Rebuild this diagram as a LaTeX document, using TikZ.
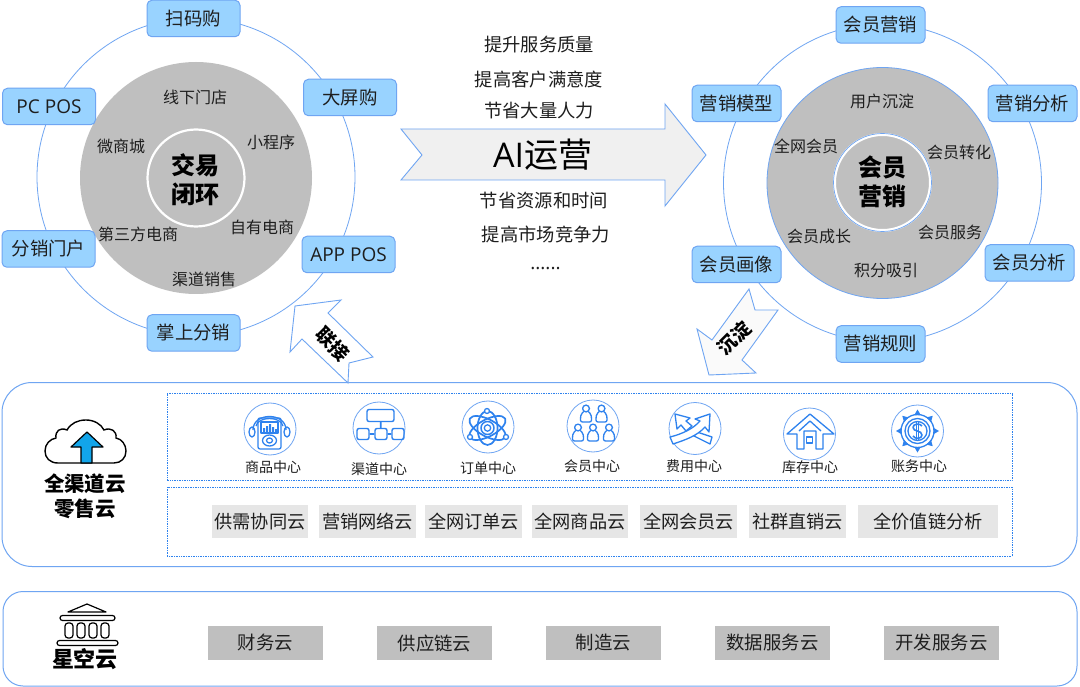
\documentclass[tikz,border=0pt]{standalone}
\usepackage{fontspec}
\setmainfont{Noto Sans CJK SC}
\newfontfamily\latinfont{Open Sans}
\newcommand{\pxf}[1]{\fontsize{#1}{#1}\selectfont}
\definecolor{lineblue}{HTML}{6FA5F2}
\definecolor{iconblue}{HTML}{2E82EE}
\definecolor{boxblue}{HTML}{99D3FF}
\definecolor{diskgrey}{HTML}{BFBFBF}
\definecolor{chiplight}{HTML}{E6E6E6}
\definecolor{ink}{HTML}{1E1E1E}
\definecolor{cloudarrow}{HTML}{12A5EA}
\tikzset{
  ring/.style={circle,draw=lineblue,line width=0.8pt,fill=none,inner sep=0pt},
  disk/.style={circle,fill=diskgrey,inner sep=0pt},
  bluebox/.style={draw=lineblue,line width=1pt,fill=boxblue,rounded corners=5pt,minimum width=#1,minimum height=36.5pt,inner sep=0pt,text=ink,font=\pxf{18.4}},
  bluebox/.default=93pt,
  disklabel/.style={text=ink,font=\pxf{16},inner sep=0pt},
  centrelabel/.style={text=black,align=center,font=\fontsize{24}{29}\selectfont\bfseries,inner sep=0pt},
  midlabel/.style={text=ink,font=\pxf{18.3},inner sep=0pt},
  panel/.style={draw=lineblue,line width=1pt,fill=white},
  dotbox/.style={draw=iconblue,line width=0.6pt,dash pattern=on 1pt off 0.7pt},
  chipa/.style={fill=chiplight,text=ink,font=\pxf{18.2},minimum height=33pt,inner sep=0pt},
  chipb/.style={fill=diskgrey,text=ink,font=\pxf{18.4},minimum height=34pt,minimum width=115pt,inner sep=0pt},
  iconring/.style={circle,draw=lineblue,line width=0.8pt,minimum size=52pt,inner sep=0pt},
  iconline/.style={draw=iconblue,line width=1.3pt,line join=round},
  iconlabel/.style={text=ink,font=\pxf{14},inner sep=0pt},
  sidelabel/.style={text=black,align=center,font=\fontsize{20.5}{25}\selectfont\bfseries,inner sep=0pt},
  arrowshape/.style={draw=lineblue,line width=0.9pt,line join=miter},
  person/.pic={
    \draw[iconline] (0,-5.5) circle (3.4);
    \draw[iconline,rounded corners=2pt] (-2.2,-2.4) -- (-5.2,0) -- (-5.6,8) -- (5.6,8) -- (5.2,0) -- (2.2,-2.4);
  },
}
\begin{document}
\begin{tikzpicture}[x=1pt,y=-1pt]
\useasboundingbox (0,0) rectangle (1080,687);
\fill[white] (0,0) rectangle (1080,687);

% ---------- left ring
\node[ring,minimum size=318pt] (lring) at (196,177) {};
\node[disk,minimum size=232pt] (ldisk) at (196,178) {};
\node[circle,draw=white,line width=2.2pt,minimum size=97pt,inner sep=0pt] (lcore) at (196,178) {};
\node[centrelabel] (ltitle) at (195,179.5) {交易\\闭环};
\node[disklabel] (l1) at (195,97) {线下门店};
\node[disklabel] (l2) at (271,142) {小程序};
\node[disklabel] (l3) at (121,146) {微商城};
\node[disklabel] (l4) at (138,234) {第三方电商};
\node[disklabel] (l5) at (262,227) {自有电商};
\node[disklabel] (l6) at (204,279) {渠道销售};

\node[bluebox] (b1) at (193.5,18.5) {扫码购};
\node[bluebox] (b2) at (350,97.5) {大屏购};
\node[bluebox,font=\latinfont\pxf{19}] (b3) at (49,106.5) {PC POS};
\node[bluebox] (b4) at (48.5,249) {分销门户};
\node[bluebox,font=\latinfont\pxf{19}] (b5) at (348.5,254.5) {APP POS};
\node[bluebox] (b6) at (193.5,333) {掌上分销};

% ---------- right ring
\node[ring,minimum size=318pt] (rring) at (882.5,183) {};
\node[disk,draw=lineblue,line width=0.8pt,minimum size=231pt] (rdisk) at (882.5,183) {};
\node[circle,draw=white,line width=3pt,minimum size=96pt,inner sep=0pt] (rcorew) at (882.5,182.5) {};
\node[circle,draw=lineblue,line width=0.7pt,minimum size=98pt,inner sep=0pt] (rcore) at (882.5,182.5) {};
\node[centrelabel] (rtitle) at (882,181.5) {会员\\营销};
\node[disklabel] (r1) at (882,101) {用户沉淀};
\node[disklabel] (r2) at (806,146) {全网会员};
\node[disklabel] (r3) at (959,152) {会员转化};
\node[disklabel] (r4) at (819,236) {会员成长};
\node[disklabel] (r5) at (950,232) {会员服务};
\node[disklabel] (r6) at (886,271) {积分吸引};

\node[bluebox=89pt] (c1) at (880.5,25) {会员营销};
\node[bluebox=89pt] (c2) at (736.5,103.5) {营销模型};
\node[bluebox=89pt] (c3) at (1032.5,103.5) {营销分析};
\node[bluebox=89pt] (c4) at (736.5,264.5) {会员画像};
\node[bluebox=89pt] (c5) at (1029.5,263) {会员分析};
\node[bluebox=89pt] (c6) at (880.5,344) {营销规则};

% ---------- central arrow and text
\draw[arrowshape,fill=black!6] (401,129) -- (665,129) -- (665,104) -- (706,155) -- (665,206) -- (665,180) -- (401,180) -- (422,155) -- cycle;
\node[text=black,inner sep=0pt,font=\pxf{34}] (ai) at (542.5,155) {{\latinfont AI}运营};
\node[midlabel] (m1) at (539,45) {提升服务质量};
\node[midlabel] (m2) at (539,80) {提高客户满意度};
\node[midlabel] (m3) at (539,111) {节省大量人力};
\node[midlabel] (m4) at (544,201) {节省资源和时间};
\node[midlabel] (m5) at (546,235) {提高市场竞争力};
\node[midlabel,font=\latinfont\pxf{19}] (m6) at (545.5,269) {......};

% ---------- panels
\draw[panel,rounded corners=30pt] (2,382.5) rectangle (1077,566.5);
\draw[panel,rounded corners=20pt] (3,591.5) rectangle (1077,686);
\draw[dotbox] (167,393.5) rectangle (1012,480.5);
\draw[dotbox] (167,487) rectangle (1012,556.5);

% ---------- small arrows
\draw[arrowshape,fill=white] (295,306) -- (341,300) -- (328,313) -- (373,357) -- (349,363) -- (348,383) -- (302,339) -- (290,352) -- cycle;
\node[rotate=-45,text=black,font=\pxf{19}\bfseries,inner sep=0pt] (link) at (333,344) {联接};
\draw[arrowshape,fill=black!2] (749,289) -- (755,310) -- (778,310) -- (742,360) -- (756,373) -- (709,375) -- (697,329) -- (712,340) -- cycle;
\node[rotate=45,text=black,font=\pxf{19}\bfseries,inner sep=0pt] (settle) at (734,338) {沉淀};

% ---------- chips
\node[chipa,minimum width=96pt] (s1) at (260,521.5) {供需协同云};
\node[chipa,minimum width=97pt] (s2) at (367.5,521.5) {营销网络云};
\node[chipa,minimum width=97pt] (s3) at (473.5,521.5) {全网订单云};
\node[chipa,minimum width=96pt] (s4) at (580,521.5) {全网商品云};
\node[chipa,minimum width=97pt] (s5) at (688.5,521.5) {全网会员云};
\node[chipa,minimum width=97pt] (s6) at (797.5,521.5) {社群直销云};
\node[chipa,minimum width=140pt] (s7) at (928,521.5) {全价值链分析};

\node[chipb] (t1) at (265.5,643) {财务云};
\node[chipb] (t2) at (434.5,643) {供应链云};
\node[chipb] (t3) at (603.5,643) {制造云};
\node[chipb] (t4) at (772.5,643) {数据服务云};
\node[chipb] (t5) at (941.5,643) {开发服务云};

% ---------- side labels and logos
\draw[black,line width=1.4pt,fill=white] (58,463) .. controls (50,463) and (45,458) .. (45,451) .. controls (45,444) and (50,439) .. (56,438) .. controls (55,431) and (60,427) .. (67,430) .. controls (71,423) and (78,420) .. (86,420) .. controls (94,420) and (101,424) .. (104,430) .. controls (111,427) and (117,431) .. (116,438) .. controls (122,439) and (126,445) .. (126,451) .. controls (126,458) and (121,463) .. (114,463) -- cycle;
\draw[black,line width=1.2pt,fill=cloudarrow,line join=round] (87,432) -- (103,447) -- (92,447) -- (92,463) -- (81,463) -- (81,447) -- (71,447) -- cycle;
\node[sidelabel] (side1) at (85,496.5) {全渠道云\\零售云};

\draw[black,line width=1.2pt,line join=round] (68,612) -- (87,604) -- (106,612) -- cycle;
\draw[black,line width=1.2pt,rounded corners=2.5pt] (60,615.5) rectangle (115,620.5);
\foreach \cx in {69,81,93,105}{
  \draw[black,line width=1.2pt,rounded corners=3pt] (\cx-4,623) rectangle (\cx+4,638);
}
\draw[black,line width=1.2pt,rounded corners=2.5pt] (57,640.5) rectangle (118,645.5);
\node[sidelabel,font=\pxf{22}\bfseries] (side2) at (85,659) {星空云};

% ---------- icon: goods
\node[iconring] (i1) at (270,429) {};
\draw[iconline,rounded corners=2pt] (258,418) rectangle (281,449);
\draw[iconline] (261,422) rectangle (278,433);
\fill[iconblue] (263,428) rectangle (265,432) (266,426) rectangle (268,432) (269,424) rectangle (271,432) (272,427) rectangle (274,432) (275,429) rectangle (277,432);
\draw[iconline] (269.5,440.5) ellipse (7 and 5.5);
\draw[iconline] (269.5,440.5) ellipse (3 and 2.5);
\draw[iconline] (253,430) .. controls (253,412) and (286,412) .. (286,430);
\draw[iconline] (256,426) .. controls (258,416) and (281,416) .. (283,426);
\draw[iconline] (252,432) ellipse (3 and 5);
\draw[iconline] (287,432) ellipse (3 and 5);
\node[iconlabel] (il1) at (273,467) {商品中心};

% ---------- icon: channel
\node[iconring] (i2) at (379,428) {};
\node[draw=iconblue,line width=1.4pt,rounded corners=2pt,minimum width=27pt,minimum height=12pt,inner sep=0pt] (ch0) at (380.5,415.5) {};
\node[draw=iconblue,line width=1.4pt,rounded corners=2pt,minimum width=12pt,minimum height=11pt,inner sep=0pt] (ch1) at (363,434) {};
\node[draw=iconblue,line width=1.4pt,rounded corners=2pt,minimum width=12pt,minimum height=11pt,inner sep=0pt] (ch2) at (381,434) {};
\node[draw=iconblue,line width=1.4pt,rounded corners=2pt,minimum width=12pt,minimum height=11pt,inner sep=0pt] (ch3) at (398,434) {};
\draw[iconline,line width=1.8pt] (ch0) -- (ch2) (ch1) -- (ch2) (ch2) -- (ch3);
\node[iconlabel] (il2) at (379,469) {渠道中心};

% ---------- icon: order
\node[iconring] (i3) at (488,427) {};
\draw[iconline,line width=1.7pt,rotate around={28:(487.5,428)}] (487.5,428) ellipse (20 and 8.5);
\draw[iconline,line width=1.7pt,rotate around={-28:(487.5,428)}] (487.5,428) ellipse (20 and 8.5);
\draw[iconline,line width=1.7pt] (487.5,428) ellipse (10 and 17);
\draw[iconline,line width=1.5pt,fill=white] (487.5,428) circle (6.5);
\draw[iconline,fill=white] (487.5,428) circle (3.2);
\draw[iconline,fill=white] (487,411) circle (2.5) (470,437) circle (2.5) (506,437) circle (2.5);
\node[iconlabel] (il3) at (488,468) {订单中心};

% ---------- icon: members
\node[iconring] (i4) at (593,426) {};
\pic at (586,414) {person};
\pic at (601.5,414) {person};
\pic at (578,433) {person};
\pic at (593,433) {person};
\pic at (609,433) {person};
\node[iconlabel] (il4) at (592,466) {会员中心};

% ---------- icon: expense
\node[iconring] (i5) at (695,428.5) {};
\draw[iconline] (675,414) -- (690,418) -- (686,421) -- (692,426) -- (686,431) -- (681,425) -- (677,429) -- cycle;
\draw[iconline] (697,432) -- (712,437) -- (710,444) -- (694,436) -- cycle;
\draw[iconline,fill=white] (710,414) -- (709,432) -- (705,427) .. controls (697,436) and (685,440) .. (673,444) -- (670,437) .. controls (682,434) and (693,429) .. (700,421) -- (695,419) -- cycle;
\node[iconlabel] (il5) at (694,466) {费用中心};

% ---------- icon: stock
\node[iconring] (i6) at (809.5,434) {};
\draw[iconline] (787,434) -- (810,414) -- (834,434) -- (823,434) -- (823,449) -- (816,449) -- (816,431) -- (804,431) -- (804,449) -- (797,449) -- (797,434) -- cycle;
\draw[iconline] (799,431) -- (810,421) -- (821,431);
\draw[iconline] (806.5,437) rectangle (812.5,443);
\node[iconlabel] (il6) at (810,467) {库存中心};

% ---------- icon: account
\node[iconring] (i7) at (917.5,431) {};
\draw[iconline] (917.5,431) circle (16.5);
\draw[iconline] (917.5,431) circle (12.5);
\draw[iconline] (917.5,431) circle (9.5);
\foreach \a in {0,45,...,315}{
  \fill[iconblue,shift={(917.5,431)},rotate=\a] (16,-3.2) -- (21.5,0) -- (16,3.2) -- cycle;
}
\draw[iconline,line width=1.6pt] (922,426) .. controls (920,423) and (913,423.5) .. (913,427.5) .. controls (913,432) and (922,430) .. (922,435) .. controls (922,439) and (915,439.5) .. (913,436);
\draw[iconline,line width=0.9pt] (916.5,421.5) -- (916.5,440.5) (918.5,421.5) -- (918.5,440.5);
\node[iconlabel] (il7) at (919,466) {账务中心};
\end{tikzpicture}
\end{document}
